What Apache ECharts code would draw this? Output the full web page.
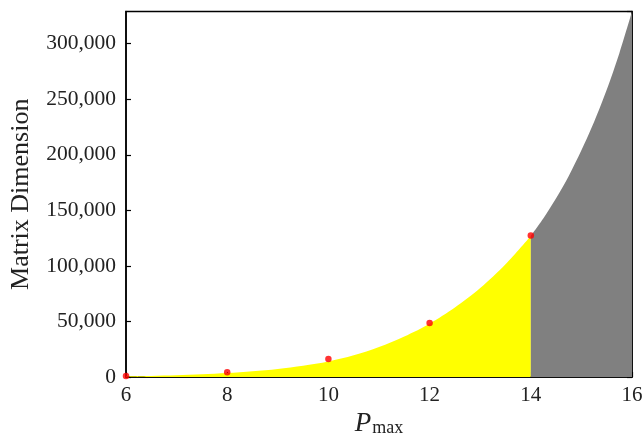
<!DOCTYPE html>
<html>
<head>
<meta charset="utf-8">
<script src="https://cdn.jsdelivr.net/npm/echarts@6/dist/echarts.min.js"></script>
<style>html,body{margin:0;padding:0;background:#fff}#c{width:644px;height:433px}</style>
</head>
<body>
<div id="c"></div>
<script>
// Curve (P_max, matrix dimension)
var curveX = [6, 6.5, 7, 7.5, 8, 8.5, 9, 9.5, 10, 10.5, 11, 11.5, 12, 12.5, 13, 13.5, 14, 14.25, 14.5, 14.75, 15, 15.25, 15.5, 15.75, 16];
var curveY = [500, 900, 1500, 2400, 3600, 5200, 7300, 10200, 14000, 19500, 27000, 36500, 48000, 62500, 80000, 101500, 127000, 143000, 161000, 181000, 204000, 229500, 258500, 291500, 329000];
var splitX = 14; // yellow up to here, gray beyond
// Red measured points
var pointX = [6, 8, 10, 12, 14];
var pointY = [800, 4300, 16200, 48600, 127400];
var xTicks = [6, 8, 10, 12, 14, 16];
var yTicks = [0, 50000, 100000, 150000, 200000, 250000, 300000];

var yellowData = [], grayData = [];
for (var i = 0; i < curveX.length; i++) {
  if (curveX[i] <= splitX) yellowData.push([curveX[i], curveY[i]]);
  if (curveX[i] >= splitX) grayData.push([curveX[i], curveY[i]]);
}
var pts = pointX.map(function (x, i) { return [x, pointY[i]]; });

var font = 'Liberation Serif';
var chart = echarts.init(document.getElementById('c'), null, {renderer: 'canvas'});
var yMax = curveY[curveY.length - 1];
var axisLine = {show: true, lineStyle: {color: '#000', width: 1.5}};
var axisTick = {show: true, inside: true, length: 5, lineStyle: {color: '#000', width: 1.2}};
chart.setOption({
  animation: false,
  grid: {left: 126, right: 12, top: 11.5, bottom: 56, containLabel: false, outerBoundsMode: 'none',
    show: true, borderColor: '#000', borderWidth: 1.5, backgroundColor: 'transparent'},
  xAxis: {
    type: 'value', min: xTicks[0], max: xTicks[xTicks.length - 1], interval: 2,
    axisLine: axisLine, axisTick: axisTick, splitLine: {show: false},
    axisLabel: {fontFamily: font, fontSize: 21, color: '#222', margin: 8},
    name: '{p|P}{s|max}', nameLocation: 'middle', nameGap: 20,
    nameTextStyle: {
      verticalAlign: 'top',
      rich: {
        p: {fontFamily: font, fontStyle: 'italic', fontSize: 27, color: '#222', lineHeight: 28},
        s: {fontFamily: font, fontSize: 18, color: '#222', lineHeight: 28, padding: [8, 0, 0, 1]}
      }
    }
  },
  yAxis: [{
    type: 'value', min: 0, max: yMax, interval: 50000,
    axisLine: axisLine, axisTick: axisTick, splitLine: {show: false},
    axisLabel: {fontFamily: font, fontSize: 21.5, color: '#222', margin: 10, showMaxLabel: false,
      formatter: function (v) { return yTicks.indexOf(v) >= 0 ? v.toLocaleString('en-US') : ''; }},
    name: 'Matrix Dimension', nameLocation: 'middle', nameGap: 92, nameRotate: 90,
    nameTextStyle: {fontFamily: font, fontSize: 26, color: '#222'}
  }, {
    type: 'value', position: 'right', min: 0, max: yMax, interval: 50000,
    axisLine: axisLine, axisTick: axisTick, splitLine: {show: false},
    axisLabel: {show: false}
  }],
  series: [{
    type: 'line', data: yellowData, smooth: 0.3, symbol: 'none',
    lineStyle: {width: 0}, areaStyle: {color: '#ffff00', opacity: 1}, z: 1
  }, {
    type: 'line', data: grayData, smooth: 0.3, symbol: 'none',
    lineStyle: {width: 0}, areaStyle: {color: '#808080', opacity: 1}, z: 1
  }, {
    type: 'scatter', data: pts, symbolSize: 6.5, itemStyle: {color: '#ff0000'}, z: 5, clip: false
  }]
});
</script>
</body>
</html>
